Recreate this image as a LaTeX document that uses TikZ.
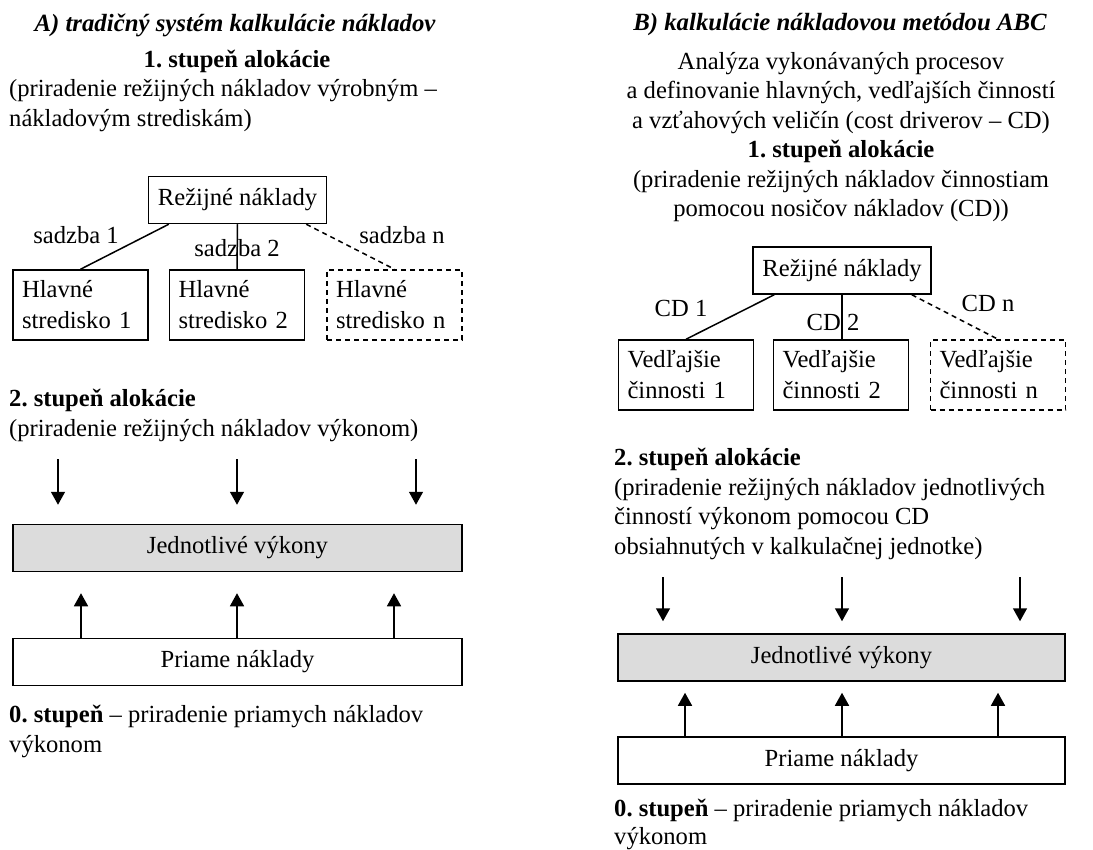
\documentclass[tikz,border=0pt]{standalone}
\usepackage{fontspec}
\setmainfont{Liberation Serif}
\usetikzlibrary{arrows.meta}
\definecolor{boxgray}{RGB}{220,220,220}
\frenchspacing
\begin{document}
\begin{tikzpicture}[x=1pt,y=-1pt,
  every node/.style={font=\fontsize{24.6}{30}\selectfont},
  txt/.style={inner sep=0pt},
  frame/.style={draw, line width=1.5pt},
  wide/.style={frame, inner sep=0pt, minimum width=449pt, minimum height=47pt},
  top/.style={frame, inner sep=0pt, minimum width=178pt, minimum height=47pt},
  unit/.style={frame, minimum width=135pt, minimum height=70pt, text width=117pt,
               align=left, inner xsep=9pt, inner ysep=0pt,
               font=\fontsize{24.6}{31}\selectfont},
  dsh/.style={dash pattern=on 5pt off 4pt},
  link/.style={line width=1.5pt},
  flow/.style={line width=1.5pt, -{Triangle[length=13pt,width=14pt]}}
]
\useasboundingbox (0,0) rectangle (1093,850);

% ---------------- A) traditional costing ----------------
\node[txt, font=\fontsize{24.8}{30}\selectfont\bfseries\itshape] (tA) at (235,25)
  {A) tradičný systém kalkulácie nákladov};
\node[txt, font=\fontsize{24.6}{30}\selectfont\bfseries] (s1A) at (237,61) {1. stupeň alokácie};
\node[txt, anchor=west, align=left] (d1A) at (9,106)
  {(priradenie režijných nákladov výrobným –\\nákladovým strediskám)};

\node[top] (rA) at (237.5,200) {Režijné náklady};
\node[unit] (h1) at (80.5,305) {Hlavné\\stredisko 1};
\node[unit] (h2) at (237,305) {Hlavné\\stredisko 2};
\node[unit, dsh] (hn) at (394.5,305) {Hlavné\\stredisko n};

\draw[link] ([xshift=21pt]rA.south west) -- (h1.north);
\draw[link] (rA.south) -- (h2.north);
\draw[link, dsh] ([xshift=-21pt]rA.south east) -- (hn.north);

\node[txt] (l1A) at (76,235) {sadzba 1};
\node[txt] (l2A) at (237,248) {sadzba 2};
\node[txt] (lnA) at (402,235) {sadzba n};

\node[txt, anchor=west, align=left] (s2A) at (9,415)
  {\textbf{2. stupeň alokácie}\\(priradenie režijných nákladov výkonom)};

\node[wide, fill=boxgray] (jA) at (237.5,548) {Jednotlivé výkony};
\node[wide] (pA) at (237.5,662) {Priame náklady};

\coordinate (aA1) at (58,459);
\coordinate (aA2) at (237,459);
\coordinate (aA3) at (416,459);
\draw[flow, shorten >=19pt] (aA1) -- (aA1 |- jA.north);
\draw[flow, shorten >=19pt] (aA2) -- (aA2 |- jA.north);
\draw[flow, shorten >=19pt] (aA3) -- (aA3 |- jA.north);

\coordinate (bA1) at (81,600);
\coordinate (bA2) at (237,600);
\coordinate (bA3) at (394,600);
\draw[flow, shorten >=21pt] (bA1 |- pA.north) -- (bA1 |- jA.south);
\draw[flow, shorten >=21pt] (bA2 |- pA.north) -- (bA2 |- jA.south);
\draw[flow, shorten >=21pt] (bA3 |- pA.north) -- (bA3 |- jA.south);

\node[txt, anchor=west, align=left] (s0A) at (9,731)
  {\textbf{0. stupeň} – priradenie priamych nákladov\\výkonom};

% ---------------- B) ABC costing ----------------
\node[txt, font=\fontsize{24.8}{30}\selectfont\bfseries\itshape] (tB) at (840,25)
  {B) kalkulácie nákladovou metódou ABC};
\node[txt, align=center, font=\fontsize{24.6}{29.4}\selectfont] (dB) at (841,137)
  {Analýza vykonávaných procesov\\
   a definovanie hlavných, vedľajších činností\\
   a vzťahových veličín (cost driverov – CD)\\
   \textbf{1. stupeň alokácie}\\
   (priradenie režijných nákladov činnostiam\\
   pomocou nosičov nákladov (CD))};

\node[top] (rB) at (842,270.5) {Režijné náklady};
\node[unit] (v1) at (686,375) {Vedľajšie\\činnosti 1};
\node[unit] (v2) at (841,375) {Vedľajšie\\činnosti 2};
\node[unit, dsh] (vn) at (998,375) {Vedľajšie\\činnosti n};

\draw[link] ([xshift=22pt]rB.south west) -- (v1.north);
\draw[link] (rB.south) -- (rB.south |- v2.north);
\draw[link, dsh] ([xshift=-20pt]rB.south east) -- (vn.north);

\node[txt] (l1B) at (681,308) {CD 1};
\node[txt] (l2B) at (833,322) {CD 2};
\node[txt] (lnB) at (988,303) {CD n};

\node[txt, anchor=west, align=left, font=\fontsize{24.6}{29.4}\selectfont] (s2B) at (614,504)
  {\textbf{2. stupeň alokácie}\\
   (priradenie režijných nákladov jednotlivých\\
   činností výkonom pomocou CD\\
   obsiahnutých v kalkulačnej jednotke)};

\node[wide, fill=boxgray, minimum width=447pt] (jB) at (841.5,657.5) {Jednotlivé výkony};
\node[wide, minimum width=447pt] (pB) at (841.5,760.5) {Priame náklady};

\coordinate (aB1) at (663,577);
\coordinate (aB2) at (842,577);
\coordinate (aB3) at (1020,577);
\draw[flow, shorten >=12pt] (aB1) -- (aB1 |- jB.north);
\draw[flow, shorten >=12pt] (aB2) -- (aB2 |- jB.north);
\draw[flow, shorten >=12pt] (aB3) -- (aB3 |- jB.north);

\coordinate (bB1) at (685,700);
\coordinate (bB2) at (842,700);
\coordinate (bB3) at (998,700);
\draw[flow, shorten >=11pt] (bB1 |- pB.north) -- (bB1 |- jB.south);
\draw[flow, shorten >=11pt] (bB2 |- pB.north) -- (bB2 |- jB.south);
\draw[flow, shorten >=11pt] (bB3 |- pB.north) -- (bB3 |- jB.south);

\node[txt, anchor=west, align=left, font=\fontsize{24.6}{28}\selectfont] (s0B) at (614,824)
  {\textbf{0. stupeň} – priradenie priamych nákladov\\výkonom};
\end{tikzpicture}
\end{document}
